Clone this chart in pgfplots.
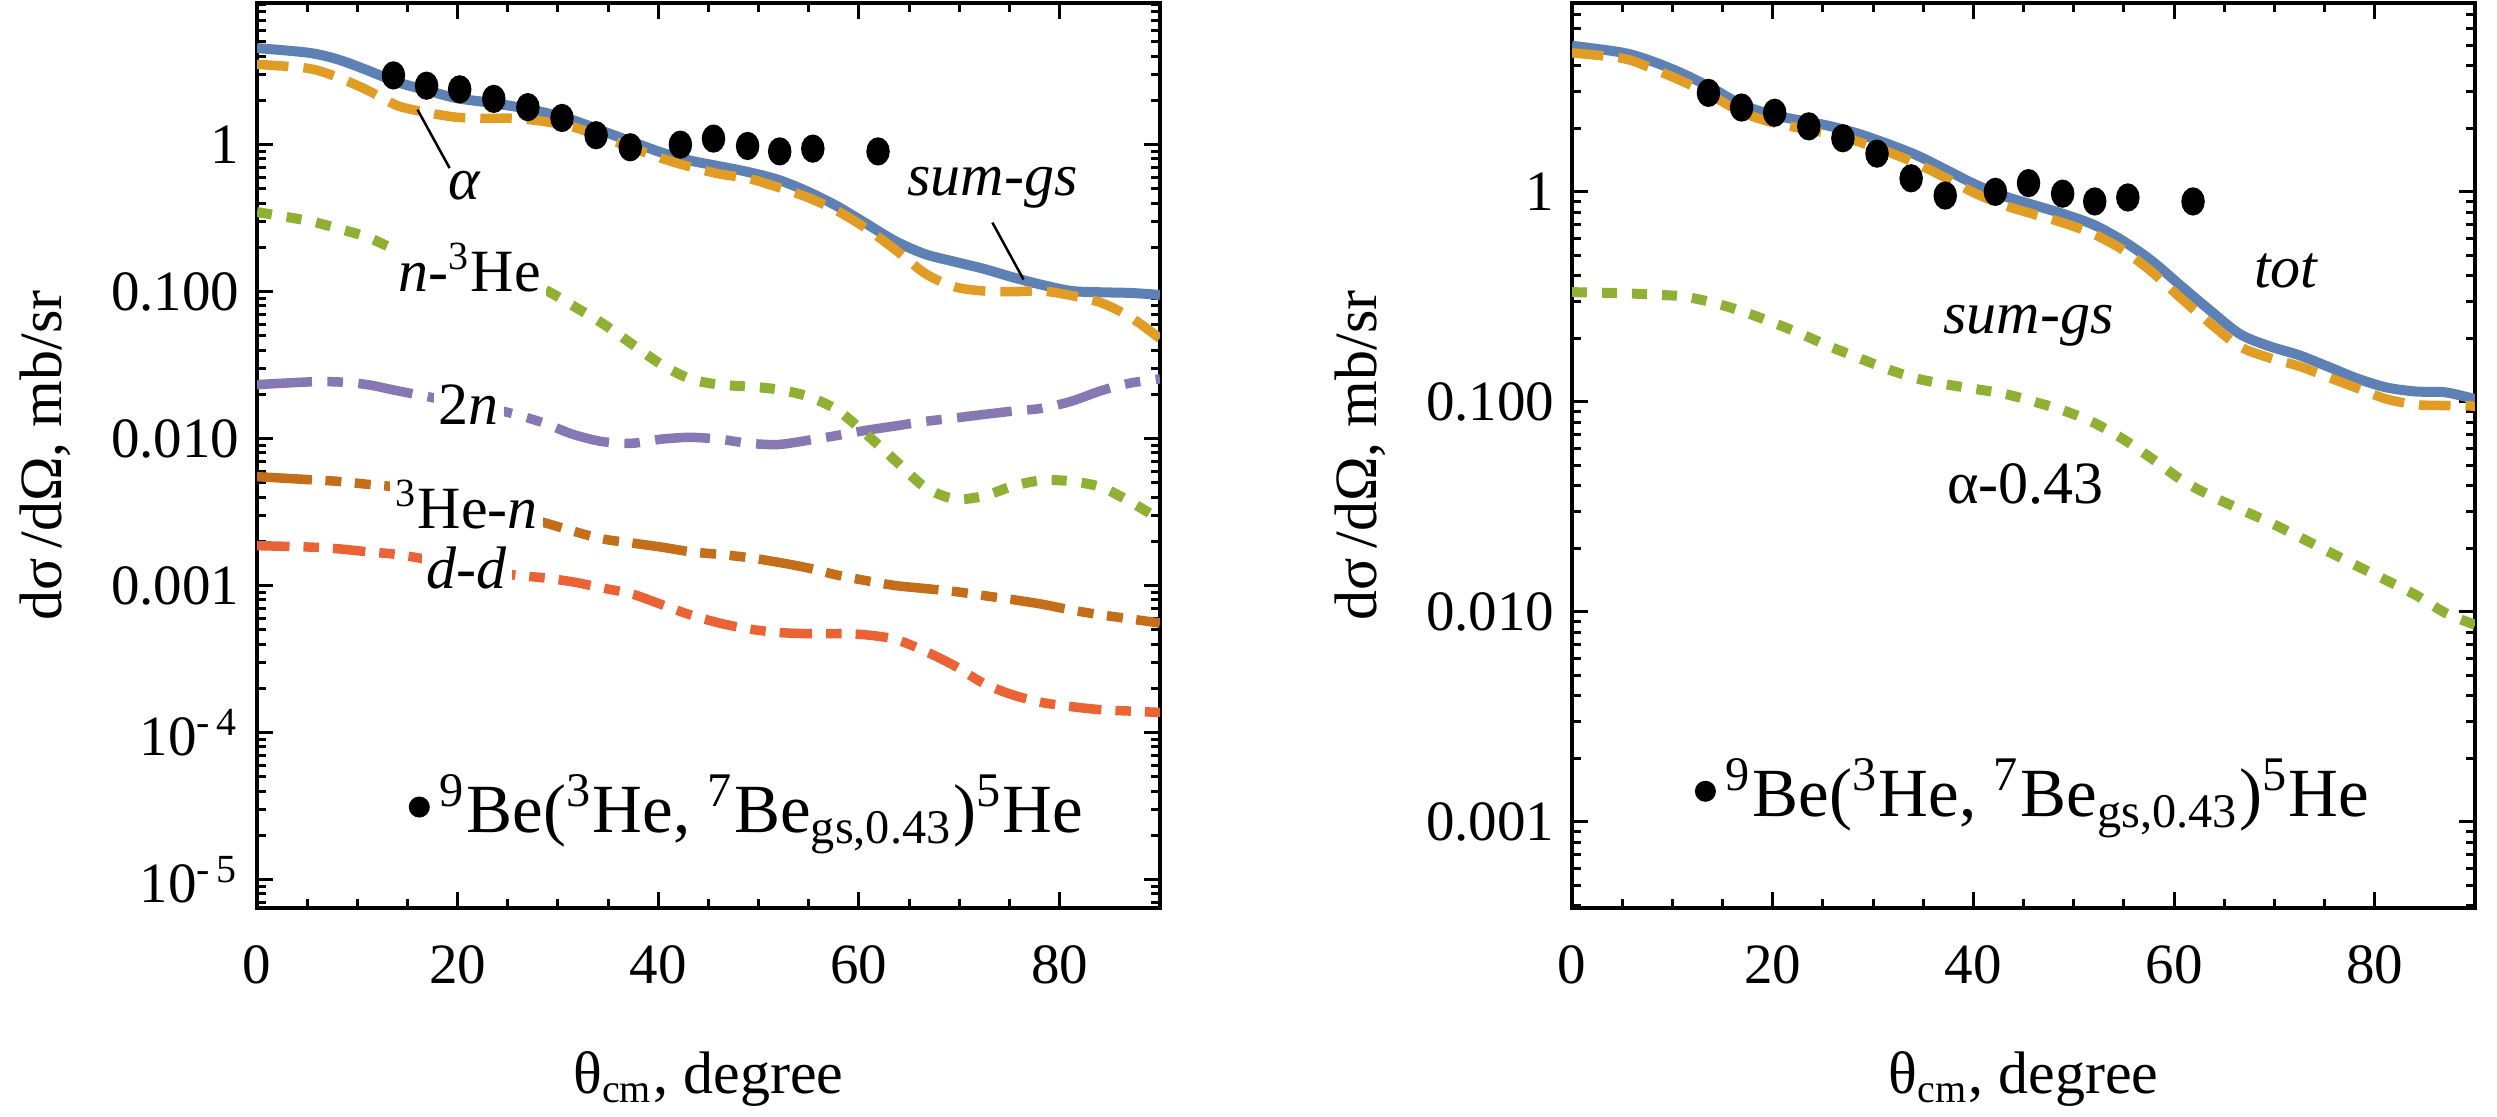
\documentclass[border=0pt]{standalone}
\usepackage{pgfplots}
\pgfplotsset{compat=1.18}
\usepackage{pgfplotstable}
\usepackage{fontspec}
\setmainfont{Liberation Serif}

\definecolor{mBlue}{rgb}{0.368417,0.506779,0.709798}
\definecolor{mOrange}{rgb}{0.880722,0.611041,0.142051}
\definecolor{mGreen}{rgb}{0.560181,0.691569,0.194885}
\definecolor{mRed}{rgb}{0.922526,0.385626,0.209179}
\definecolor{mPurple}{rgb}{0.528488,0.470624,0.701351}
\definecolor{mBrown}{rgb}{0.772079,0.431554,0.102387}

\pgfplotstableread{
x blue orange green purple brown red
0 4.54 3.52 0.348 0.0233 0.00551 0.00187
5.15 4.22 3.30 0.303 0.0243 0.00526 0.00183
8.07 3.80 2.87 0.269 0.0243 0.00512 0.00178
11.0 3.21 2.35 0.235 0.0233 0.00489 0.00170
13.93 2.67 1.85 0.192 0.0212 0.00467 0.00163
16.85 2.35 1.66 0.170 0.0194 0.00419 0.00151
19.78 2.08 1.54 0.150 0.0177 0.00375 0.00139
22.7 1.95 1.51 0.133 0.0164 0.00336 0.00128
25.63 1.82 1.51 0.118 0.0147 0.00301 0.00118
28.55 1.66 1.44 0.104 0.0128 0.00269 0.00113
31.48 1.47 1.32 0.0802 0.0107 0.00235 0.00106
34.4 1.24 1.13 0.0610 0.00955 0.00208 0.000964
37.33 1.05 0.955 0.0442 0.00929 0.00195 0.000879
40.26 0.887 0.810 0.0321 0.00991 0.00183 0.000746
43.18 0.780 0.706 0.0255 0.0102 0.00170 0.000632
46.1 0.713 0.632 0.0233 0.00991 0.00163 0.000556
49.03 0.650 0.588 0.0226 0.00929 0.00155 0.000507
51.96 0.577 0.512 0.0216 0.00912 0.00144 0.000480
54.88 0.480 0.438 0.0194 0.00973 0.00132 0.000471
57.81 0.382 0.355 0.0157 0.0105 0.00118 0.000471
60.74 0.290 0.269 0.0107 0.0114 0.00108 0.000462
63.66 0.220 0.192 0.00706 0.0122 0.00100 0.000430
66.59 0.180 0.133 0.00467 0.0131 0.000955 0.000358
69.51 0.160 0.108 0.00389 0.0138 0.000912 0.000285
72.44 0.143 0.101 0.00407 0.0146 0.000855 0.000216
75.37 0.125 0.100 0.00476 0.0154 0.000802 0.000180
78.29 0.111 0.101 0.00521 0.0161 0.000746 0.000160
81.22 0.101 0.094 0.00512 0.0180 0.000681 0.000150
84.14 0.099 0.084 0.00467 0.0212 0.000632 0.000143
87.07 0.098 0.067 0.00371 0.0239 0.000593 0.000140
90 0.095 0.048 0.00282 0.0255 0.000556 0.000137
}\leftdata

\pgfplotstableread{
x blue orange green
0 4.96 4.59 0.333
5.15 4.59 4.31 0.329
8.07 4.17 3.85 0.324
11.0 3.66 3.36 0.318
13.93 3.12 2.87 0.298
16.85 2.61 2.40 0.271
19.78 2.34 2.15 0.241
22.7 2.19 2.01 0.212
25.63 2.06 1.89 0.184
28.55 1.89 1.73 0.162
31.48 1.69 1.55 0.143
34.4 1.49 1.36 0.129
37.33 1.27 1.16 0.121
40.26 1.08 0.98 0.115
43.18 0.950 0.86 0.109
46.1 0.863 0.78 0.100
49.03 0.783 0.71 0.0908
51.96 0.698 0.63 0.0798
54.88 0.586 0.53 0.0667
57.81 0.468 0.415 0.0536
60.74 0.355 0.31 0.0425
63.66 0.271 0.235 0.0357
66.59 0.210 0.183 0.0308
69.51 0.184 0.162 0.0267
72.44 0.167 0.148 0.0228
75.37 0.147 0.131 0.0194
78.29 0.129 0.116 0.0165
81.22 0.117 0.103 0.0141
84.14 0.112 0.097 0.0120
87.07 0.111 0.096 0.00987
90 0.103 0.0955 0.00868
}\rightdata

\pgfplotstableread{
x y
13.6 2.96
16.9 2.52
20.2 2.38
23.6 2.05
27.0 1.80
30.4 1.52
33.8 1.16
37.2 0.96
42.2 1.00
45.5 1.10
48.9 0.98
52.1 0.90
55.4 0.94
61.9 0.90
}\expdata

\pgfplotsset{
  every axis/.append style={
    axis line style={line width=0.8pt},
    every tick/.style={black, line width=0.6pt},
    major tick length=3.2pt, minor tick length=1.8pt,
    tick align=inside,
    ticklabel style={font=\fontsize{11.4}{13}\selectfont},
    xticklabel style={yshift=-3.9pt},
  },
  every axis label/.append style={font=\fontsize{12}{14}\selectfont},
  every axis x label/.style={at={(axis description cs:0.5,0)}, yshift=-37pt, anchor=base},
  every axis y label/.style={at={(axis description cs:0,0.5)}, xshift=-42.4pt, rotate=90, anchor=center},
}

\begin{document}
\begin{tikzpicture}
\useasboundingbox (0,0) rectangle (499.4pt,223.2pt);

% ---------------- left panel ----------------
\begin{axis}[scale only axis, anchor=south west, at={(51.4pt,41.6pt)},
  width=180.6pt, height=181pt,
  xmin=0, xmax=90, ymode=log,
  xtick={0,20,40,60,80}, xticklabels={0,20,40,60,80},
  minor x tick num=3,
  xlabel={θ\textsubscript{cm}, degree},
  ylabel={dσ\,/dΩ, mb/sr},
  ymin=6.4e-6, ymax=9.2,
  ytick={1e-5,1e-4,0.001,0.01,0.1,1},
  yticklabels={10\textsuperscript{-\,5},10\textsuperscript{-\,4},0.001,0.010,0.100,1},
  minor ytick={7e-6,8e-6,9e-6,
    2e-5,3e-5,4e-5,5e-5,6e-5,7e-5,8e-5,9e-5,
    2e-4,3e-4,4e-4,5e-4,6e-4,7e-4,8e-4,9e-4,
    0.002,0.003,0.004,0.005,0.006,0.007,0.008,0.009,
    0.02,0.03,0.04,0.05,0.06,0.07,0.08,0.09,
    0.2,0.3,0.4,0.5,0.6,0.7,0.8,0.9,
    2,3,4,5,6,7,8,9},
  legend style={draw=none, fill=none, inner sep=0pt, anchor=west,
      font=\fontsize{13.8}{16}\selectfont, at={(0.167,0.1116)}},
  legend cell align=left,
  legend image code/.code={\fill[black] (0pt,0pt) circle (1.9pt);},
]
\addplot[mRed, line width=1.9pt, dash pattern=on 6.5pt off 2.8pt on 3.1pt off 2.8pt, smooth, forget plot] table[x=x,y=red] {\leftdata};
\addplot[mBrown, line width=1.9pt, dash pattern=on 11pt off 2.7pt on 3.2pt off 2.7pt on 3.2pt off 2.7pt, smooth, forget plot] table[x=x,y=brown] {\leftdata};
\addplot[mPurple, line width=1.9pt, dash pattern=on 11pt off 3.1pt on 3.1pt off 3.1pt, smooth, forget plot] table[x=x,y=purple] {\leftdata};
\addplot[mGreen, line width=2pt, dash pattern=on 3pt off 3pt, smooth, forget plot] table[x=x,y=green] {\leftdata};
\addplot[mBlue, line width=2pt, smooth, forget plot] table[x=x,y=blue] {\leftdata};
\addplot[mOrange, line width=1.9pt, dash pattern=on 6.3pt off 3pt, smooth, forget plot] table[x=x,y=orange] {\leftdata};
\addplot[only marks, mark=*, mark size=2.15pt, black, mark options={yscale=1.22}] table[x=x,y=y] {\expdata};
\addlegendentry{\textsuperscript{9}Be(\textsuperscript{3}He, \textsuperscript{7}Be\textsubscript{gs,0.43})\textsuperscript{5}He}

\draw[black, line width=0.5pt] (axis cs:19.2,0.693) -- (axis cs:16.0,1.73);
\draw[black, line width=0.5pt] (axis cs:73.3,0.295) -- (axis cs:76.4,0.121);
\node[font=\fontsize{12}{14}\selectfont] at (axis cs:20.7,0.526) {\textit{α}};
\node[font=\fontsize{12}{14}\selectfont] at (axis cs:73.3,0.512) {\textit{sum-gs}};
\node[font=\fontsize{12}{14}\selectfont, fill=white, inner sep=1pt] at (axis cs:21.2,0.146) {\textit{n}-\textsuperscript{3}He};
\node[font=\fontsize{12}{14}\selectfont, fill=white, inner sep=1pt] at (axis cs:21.1,0.0169) {2\textit{n}};
\node[font=\fontsize{12}{14}\selectfont, fill=white, inner sep=1pt] at (axis cs:20.9,0.00355) {\textsuperscript{3}He-\textit{n}};
\node[font=\fontsize{12}{14}\selectfont, fill=white, inner sep=1pt] at (axis cs:20.9,0.00132) {\textit{d-d}};
\end{axis}

% ---------------- right panel ----------------
\begin{axis}[scale only axis, anchor=south west, at={(314.4pt,41.6pt)},
  width=180.6pt, height=181pt,
  xmin=0, xmax=90, ymode=log,
  xtick={0,20,40,60,80}, xticklabels={0,20,40,60,80},
  minor x tick num=3,
  xlabel={θ\textsubscript{cm}, degree},
  ylabel={dσ\,/dΩ, mb/sr},
  ymin=3.89e-4, ymax=7.93,
  ytick={0.001,0.01,0.1,1},
  yticklabels={0.001,0.010,0.100,1},
  minor ytick={4e-4,5e-4,6e-4,7e-4,8e-4,9e-4,
    0.002,0.003,0.004,0.005,0.006,0.007,0.008,0.009,
    0.02,0.03,0.04,0.05,0.06,0.07,0.08,0.09,
    0.2,0.3,0.4,0.5,0.6,0.7,0.8,0.9,
    2,3,4,5,6,7},
  legend style={draw=none, fill=none, inner sep=0pt, anchor=west,
      font=\fontsize{13.8}{16}\selectfont, at={(0.135,0.129)}},
  legend cell align=left,
  legend image code/.code={\fill[black] (0pt,0pt) circle (1.9pt);},
]
\addplot[mGreen, line width=2pt, dash pattern=on 3pt off 3pt, smooth, forget plot] table[x=x,y=green] {\rightdata};
\addplot[mBlue, line width=2pt, smooth, forget plot] table[x=x,y=blue] {\rightdata};
\addplot[mOrange, line width=1.9pt, dash pattern=on 6.3pt off 3pt, smooth, forget plot] table[x=x,y=orange] {\rightdata};
\addplot[only marks, mark=*, mark size=2.15pt, black, mark options={yscale=1.22}] table[x=x,y=y] {\expdata};
\addlegendentry{\textsuperscript{9}Be(\textsuperscript{3}He, \textsuperscript{7}Be\textsubscript{gs,0.43})\textsuperscript{5}He}
\node[font=\fontsize{12}{14}\selectfont] at (axis cs:71.2,0.420) {\textit{tot}};
\node[font=\fontsize{12}{14}\selectfont] at (axis cs:45.5,0.231) {\textit{sum-gs}};
\node[font=\fontsize{12}{14}\selectfont] at (axis cs:45.2,0.0406) {α-0.43};
\end{axis}
\end{tikzpicture}
\end{document}
